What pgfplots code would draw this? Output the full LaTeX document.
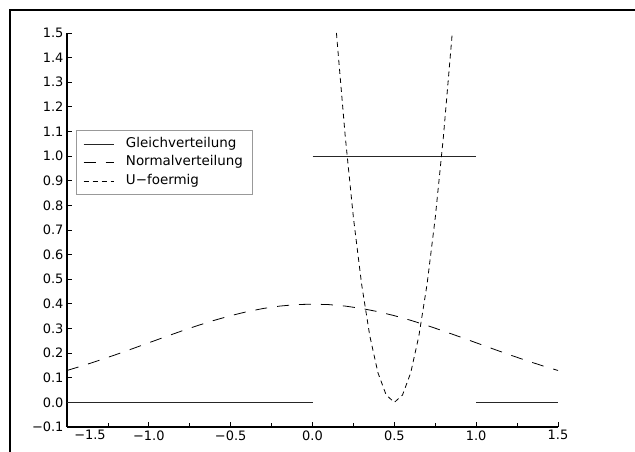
\documentclass[border=0pt]{standalone}
\usepackage{fontspec}
\setmainfont{DejaVu Sans}
\usepackage{pgfplots}
\pgfplotsset{compat=1.18}

\begin{document}
\begin{tikzpicture}[x=1bp,y=1bp]
\useasboundingbox (0,0) rectangle (635,452);
% outer frame (top and left edges only, as in the reference)
\draw[line width=2.6bp] (10,0) -- (10,442) -- (635,442);
\begin{axis}[
    at={(67bp,25bp)}, anchor=south west,
    width=491bp, height=394bp, scale only axis,
    xmin=-1.5, xmax=1.5, ymin=-0.1, ymax=1.5,
    axis lines=left,
    axis line style={-, line width=1.8bp},
    tick align=inside,
    tick style={black, line width=0.8bp},
    major tick length=5bp, minor tick length=4bp,
    xtick={-1.5,-1,-0.5,0,0.5,1,1.5},
    minor xtick={-1.25,-0.75,-0.25,0.25,0.75,1.25},
    xticklabels={\hspace*{46bp}−1.5,−1.0,−0.5,0.0,0.5,1.0,1.5},
    ytick={-0.1,0,0.1,0.2,0.3,0.4,0.5,0.6,0.7,0.8,0.9,1.0,1.1,1.2,1.3,1.4,1.5},
    yticklabels={−0.1,0.0,0.1,0.2,0.3,0.4,0.5,0.6,0.7,0.8,0.9,1.0,1.1,1.2,1.3,1.4,1.5},
    ticklabel style={font=\fontsize{13}{15}\selectfont},
    legend style={
        at={(rel axis cs:0.018,0.754)}, anchor=north west,
        draw=gray!80, line width=0.6bp,
        font=\fontsize{13.5}{16}\selectfont,
        inner xsep=7bp, inner ysep=5bp, row sep=1bp,
        nodes={inner sep=2bp, text height=10bp, text depth=3.5bp},
        /tikz/every odd column/.append style={column sep=10bp},
    },
    legend cell align=left,
    legend image code/.code={\draw[#1] (0bp,0bp) -- (30bp,0bp);},
]
% Gleichverteilung
\addplot[black!85, line width=0.8bp] coordinates {
    (-1.5,0) (0,0)
};
\addlegendentry{Gleichverteilung}
\addplot[black!85, line width=0.8bp, forget plot] coordinates {
    (0,1) (1,1)
};
\addplot[black!85, line width=0.8bp, forget plot] coordinates {
    (1,0) (1.5,0)
};
% Normalverteilung
\addplot[black, line width=0.8bp, dash pattern=on 12bp off 10bp] coordinates {
    (-1.5,0.1295) (-1.4,0.1497) (-1.3,0.1714) (-1.2,0.1942) (-1.1,0.2179)
    (-1.0,0.2420) (-0.9,0.2661) (-0.8,0.2897) (-0.7,0.3123) (-0.6,0.3332)
    (-0.5,0.3521) (-0.4,0.3683) (-0.3,0.3814) (-0.2,0.3910) (-0.1,0.3970)
    (0,0.3989)
    (0.1,0.3970) (0.2,0.3910) (0.3,0.3814) (0.4,0.3683) (0.5,0.3521)
    (0.6,0.3332) (0.7,0.3123) (0.8,0.2897) (0.9,0.2661) (1.0,0.2420)
    (1.1,0.2179) (1.2,0.1942) (1.3,0.1714) (1.4,0.1497) (1.5,0.1295)
};
\addlegendentry{Normalverteilung}
% U-foermig
\addplot[black, line width=0.8bp, dash pattern=on 5bp off 4bp] coordinates {
    (0.1464,1.5) (0.15,1.47) (0.2,1.08) (0.25,0.75) (0.3,0.48) (0.35,0.27)
    (0.4,0.12) (0.45,0.03) (0.5,0) (0.55,0.03) (0.6,0.12) (0.65,0.27)
    (0.7,0.48) (0.75,0.75) (0.8,1.08) (0.85,1.47) (0.8536,1.5)
};
\addlegendentry{U−foermig}
\end{axis}
\end{tikzpicture}
\end{document}
